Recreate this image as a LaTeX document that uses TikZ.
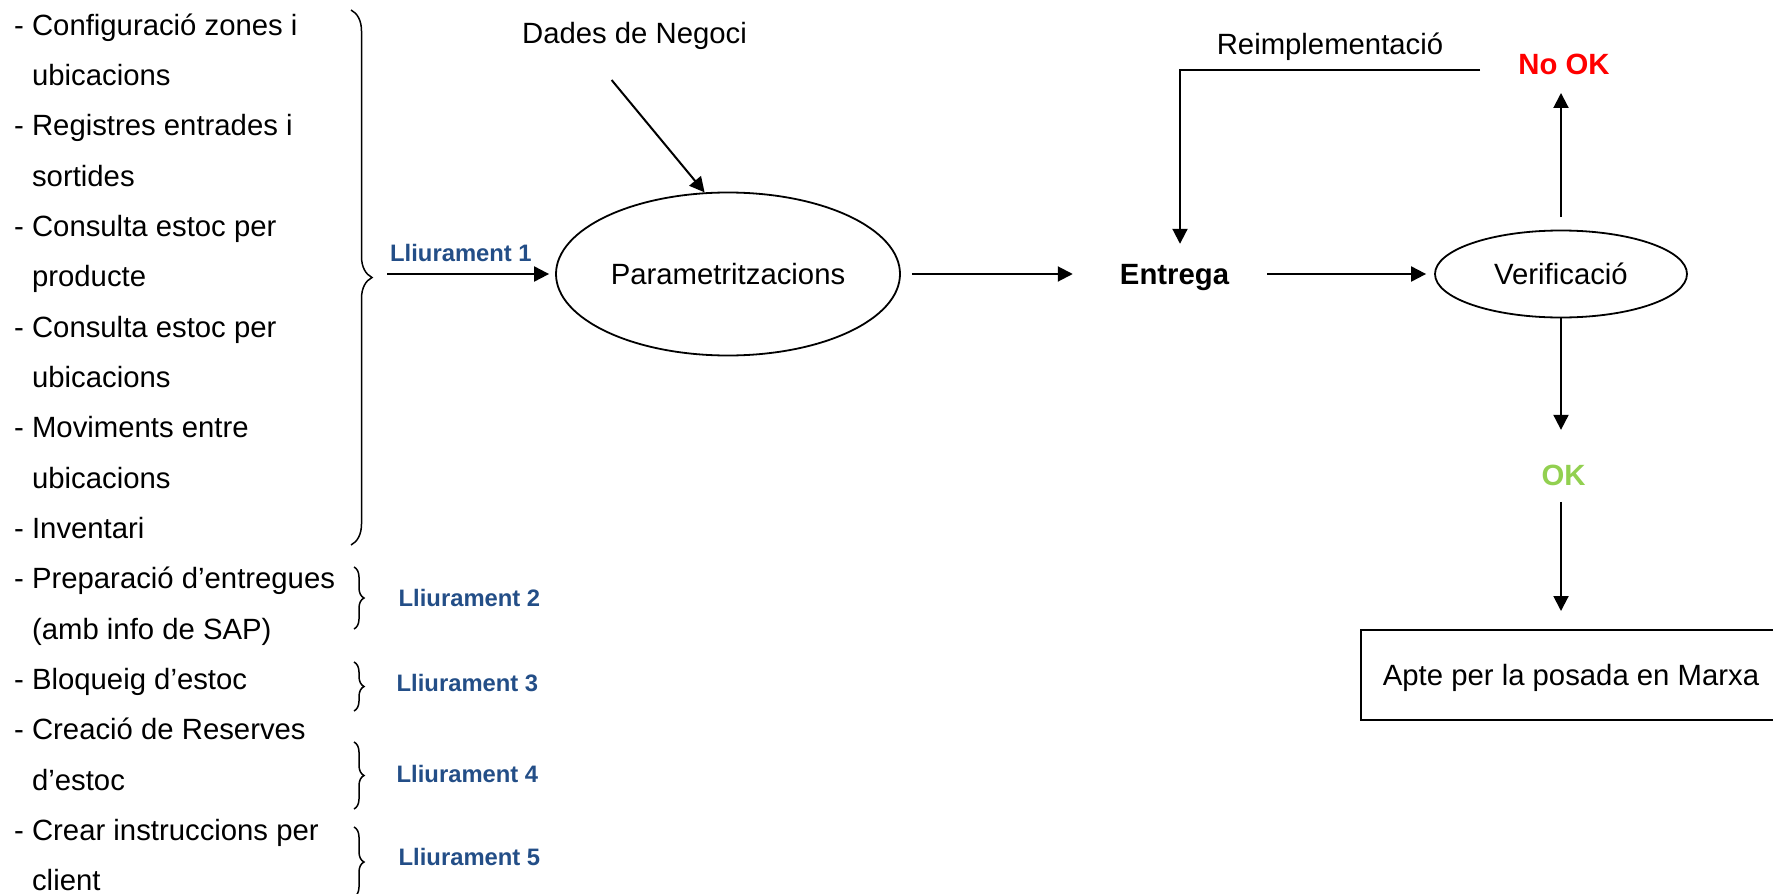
\documentclass[tikz,border=0pt]{standalone}
\usepackage{fontspec}
\setmainfont{Liberation Sans}
\usetikzlibrary{arrows.meta,decorations.pathreplacing,shapes.geometric}

\definecolor{delivblue}{RGB}{35,78,135}
\definecolor{okgreen}{RGB}{146,208,80}
\definecolor{nokred}{RGB}{255,0,0}

\begin{document}
\begin{tikzpicture}[x=1pt,y=-1pt,
  every node/.style={inner sep=0pt},
  body/.style={font=\fontsize{29.3pt}{35pt}\selectfont},
  strong/.style={font=\fontsize{29.3pt}{35pt}\selectfont\bfseries},
  capline/.style={text height=21pt,text depth=0pt},
  deliv/.style={font=\fontsize{23.8pt}{28pt}\selectfont\bfseries,text=delivblue,anchor=base west},
  arr/.style={line width=2pt,-{Triangle[length=15pt,width=15pt]}},
  oval/.style={ellipse,draw,line width=1.8pt,body,capline},
  brc/.style={decorate,line width=1.5pt,decoration={brace,amplitude=#1}},
]
\useasboundingbox (0,0) rectangle (1773,894);
\clip (0,0) rectangle (1773,894);

% task list on the left
\foreach \xx/\t [count=\i from 0] in {
  14/{- Configuració zones i}, 31.9/ubicacions,
  14/{- Registres entrades i}, 31.9/sortides,
  14/{- Consulta estoc per}, 31.9/producte,
  14/{- Consulta estoc per}, 31.9/ubicacions,
  14/{- Moviments entre}, 31.9/ubicacions,
  14/{- Inventari},
  14/{- Preparació d’entregues}, 31.9/{(amb info de SAP)},
  14/{- Bloqueig d’estoc},
  14/{- Creació de Reserves}, 31.9/{d’estoc},
  14/{- Crear instruccions per}, 31.9/client}
  \node[body,anchor=base west] (line\i) at (\xx,{35+50.35*\i}) {\t};

% braces grouping the tasks
\draw[brc=21pt] (351,10) -- (351,545);
\draw[brc=10pt] (354,567) -- (354,629);
\draw[brc=10pt] (354,662) -- (354,711);
\draw[brc=10pt] (354,742) -- (354,809);
\draw[brc=10pt] (354,827) -- (354,897);

% deliveries
\node[deliv] (d1) at (390,261.7) {Lliurament 1};
\node[deliv] (d2) at (398.5,606) {Lliurament 2};
\node[deliv] (d3) at (396.5,691.7) {Lliurament 3};
\node[deliv] (d4) at (396.5,782.7) {Lliurament 4};
\node[deliv] (d5) at (398.5,865.7) {Lliurament 5};

% main flow
\node[oval,minimum width=344pt,minimum height=163pt] (param) at (728,274) {Parametritzacions};
\node[body,anchor=base] (dades) at (634.5,43.5) {Dades de Negoci};
\coordinate (dadesfoot) at (611.6,80);
\draw[arr] (dadesfoot) -- (param.106);

\coordinate (d1foot) at (387,274);
\draw[arr,shorten >=6pt] (d1foot) -- (param.west);

\node[strong,capline] (entrega) at (1174.5,274) {Entrega};
\draw[arr,shorten <=11pt,shorten >=47pt] (param.east) -- (entrega.west);

\node[oval,minimum width=252pt,minimum height=87pt] (verif) at (1561,274) {Verificació};
\draw[arr,shorten <=38pt,shorten >=8pt] (entrega.east) -- (verif.west);

\node[strong,text=nokred,anchor=base] (nook) at (1564,74.5) {No OK};
\draw[arr,shorten <=12.5pt,shorten >=18pt] (verif.north) -- (verif.north |- nook.south);

\node[body,anchor=base] (reimpl) at (1330,54.5) {Reimplementació};
\coordinate (reimstart) at (1480,69.5);
\draw[arr,shorten >=19.5pt] (reimstart) -| ([xshift=5.5pt]entrega.north);

\node[strong,text=okgreen,anchor=base] (ok) at (1563.5,485.5) {OK};
\draw[arr,shorten >=35pt] (verif.south) -- (verif.south |- ok.north);

\node[draw,line width=2pt,body,capline,minimum width=420pt,minimum height=90pt] (apte) at (1571,675) {Apte per la posada en Marxa};
\draw[arr,shorten <=16pt,shorten >=18pt] (verif.south |- ok.south) -- (verif.south |- apte.north);
\end{tikzpicture}
\end{document}
